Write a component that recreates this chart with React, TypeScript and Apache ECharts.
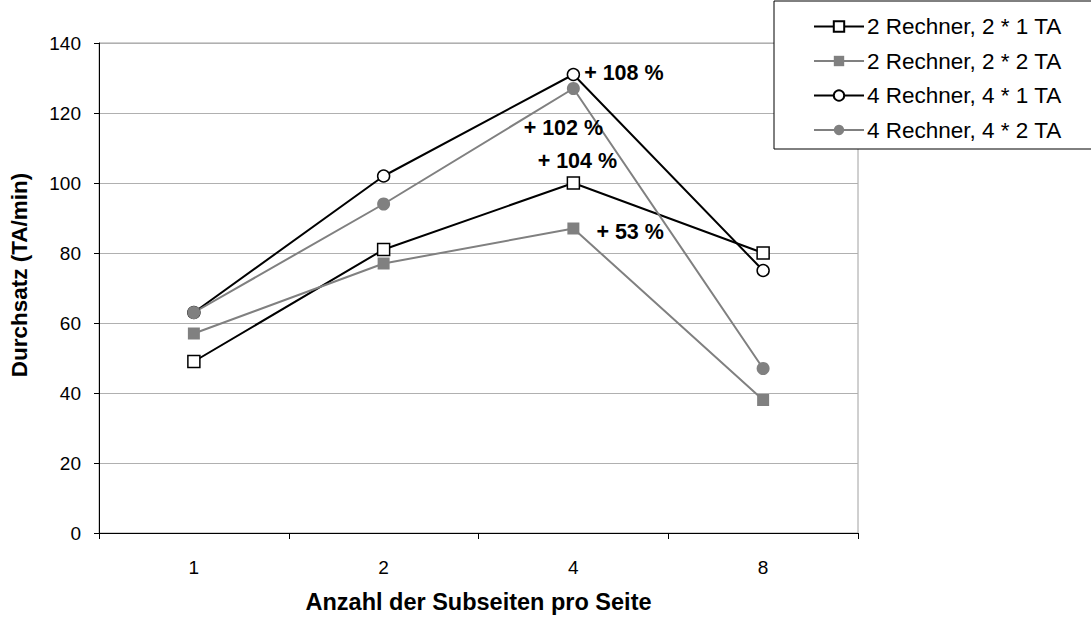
import React, { useEffect, useRef } from "react";
import * as echarts from "echarts";

const categories = ["1", "2", "4", "8"];
const seriesNames = [
  "2 Rechner, 2 * 1 TA",
  "2 Rechner, 2 * 2 TA",
  "4 Rechner, 4 * 1 TA",
  "4 Rechner, 4 * 2 TA",
];
const r2ta1 = [49, 81, 100, 80];
const r2ta2 = [57, 77, 87, 38];
const r4ta1 = [63, 102, 131, 75];
const r4ta2 = [63, 94, 127, 47];
const yTicks = { min: 0, max: 140, interval: 20 };

const FONT = "'Liberation Sans', Arial, sans-serif";
const BLACK = "#000000";
const GRAY = "#808080";

// Gains at 4 subpages, attached to the matching point of each series
const notes: Record<string, { text: string; label: any }> = {
  r4ta1: { text: "+ 108 %", label: { position: "right", distance: 4, offset: [0, -2] } },
  r4ta2: { text: "+ 102 %", label: { position: "bottom", distance: 5, offset: [-10, 17] } },
  r2ta1: { text: "+ 104 %", label: { position: "top", distance: 4, offset: [4, 0] } },
  r2ta2: { text: "+ 53 %", label: { position: "right", distance: 17, offset: [0, 3] } },
};

function withNote(values: number[], key: string, idx: number) {
  const n = notes[key];
  return values.map((v, i) =>
    i === idx
      ? {
          value: v,
          label: {
            show: true,
            formatter: n.text,
            fontFamily: FONT,
            fontSize: 21.5,
            fontWeight: "bold",
            color: BLACK,
            ...n.label,
          },
        }
      : v
  );
}

export default function App() {
  const ref = useRef<HTMLDivElement>(null);
  useEffect(() => {
    if (!ref.current) return;
    const chart = echarts.init(ref.current, undefined, { renderer: "svg" });
    const mk = (
      name: string,
      data: any[],
      color: string,
      symbol: string,
      fill: string,
      size: number
    ) => ({
      name,
      type: "line",
      data,
      symbol,
      symbolSize: size,
      showAllSymbol: true,
      lineStyle: { color, width: 2 },
      itemStyle: { color: fill, borderColor: color, borderWidth: fill === "#ffffff" ? 1.5 : 0 },
      emphasis: { disabled: true },
      z: 3,
    });
    chart.setOption({
      animation: false,
      backgroundColor: "#ffffff",
      textStyle: { fontFamily: FONT },
      grid: {
        left: 97,
        right: 233,
        top: 43,
        bottom: 83,
        show: true,
        borderColor: "#a0a0a0",
        borderWidth: 1,
      },
      graphic: [
        {
          type: "rect",
          shape: { x: 774, y: 1, width: 340, height: 148 },
          style: { fill: "#ffffff", stroke: BLACK, lineWidth: 1 },
          z: 1,
        },
      ],
      legend: {
        orient: "vertical",
        left: 808,
        top: 10,
        itemWidth: 50,
        itemHeight: 13,
        itemGap: 11.5,
        textStyle: { fontFamily: FONT, fontSize: 22.5, color: BLACK, padding: [0, 0, 0, -2] },
        data: seriesNames,
        z: 5,
      },
      xAxis: {
        type: "category",
        data: categories,
        boundaryGap: true,
        name: "Anzahl der Subseiten pro Seite",
        nameLocation: "middle",
        nameGap: 57,
        nameTextStyle: { fontFamily: FONT, fontSize: 23.5, fontWeight: "bold", color: BLACK },
        axisLine: { lineStyle: { color: BLACK, width: 1 } },
        axisTick: { show: true, length: 6, alignWithLabel: false, lineStyle: { color: BLACK } },
        axisLabel: { fontFamily: FONT, fontSize: 19, color: BLACK, margin: 25 },
        splitLine: { show: false },
      },
      yAxis: {
        type: "value",
        min: yTicks.min,
        max: yTicks.max,
        interval: yTicks.interval,
        name: "Durchsatz (TA/min)",
        nameLocation: "middle",
        nameGap: 68,
        nameRotate: 90,
        nameTextStyle: {
          fontFamily: FONT,
          fontSize: 22.5,
          fontWeight: "bold",
          color: BLACK,
          padding: [0, 0, 0, 26],
        },
        axisLine: { show: true, lineStyle: { color: BLACK, width: 1 } },
        axisTick: { show: true, length: 5, lineStyle: { color: BLACK } },
        axisLabel: { fontFamily: FONT, fontSize: 19, color: BLACK, margin: 18 },
        splitLine: { show: true, lineStyle: { color: "#b0b0b0", width: 1 } },
      },
      series: [
        mk(seriesNames[0], withNote(r2ta1, "r2ta1", 2), BLACK, "rect", "#ffffff", 12),
        mk(seriesNames[1], withNote(r2ta2, "r2ta2", 2), GRAY, "rect", GRAY, 12),
        mk(seriesNames[2], withNote(r4ta1, "r4ta1", 2), BLACK, "circle", "#ffffff", 12),
        mk(seriesNames[3], withNote(r4ta2, "r4ta2", 2), GRAY, "circle", GRAY, 13),
      ],
    });
    return () => chart.dispose();
  }, []);
  return <div ref={ref} style={{ width: 1091, height: 619, position: "absolute", left: 0, top: 0 }} />;
}
